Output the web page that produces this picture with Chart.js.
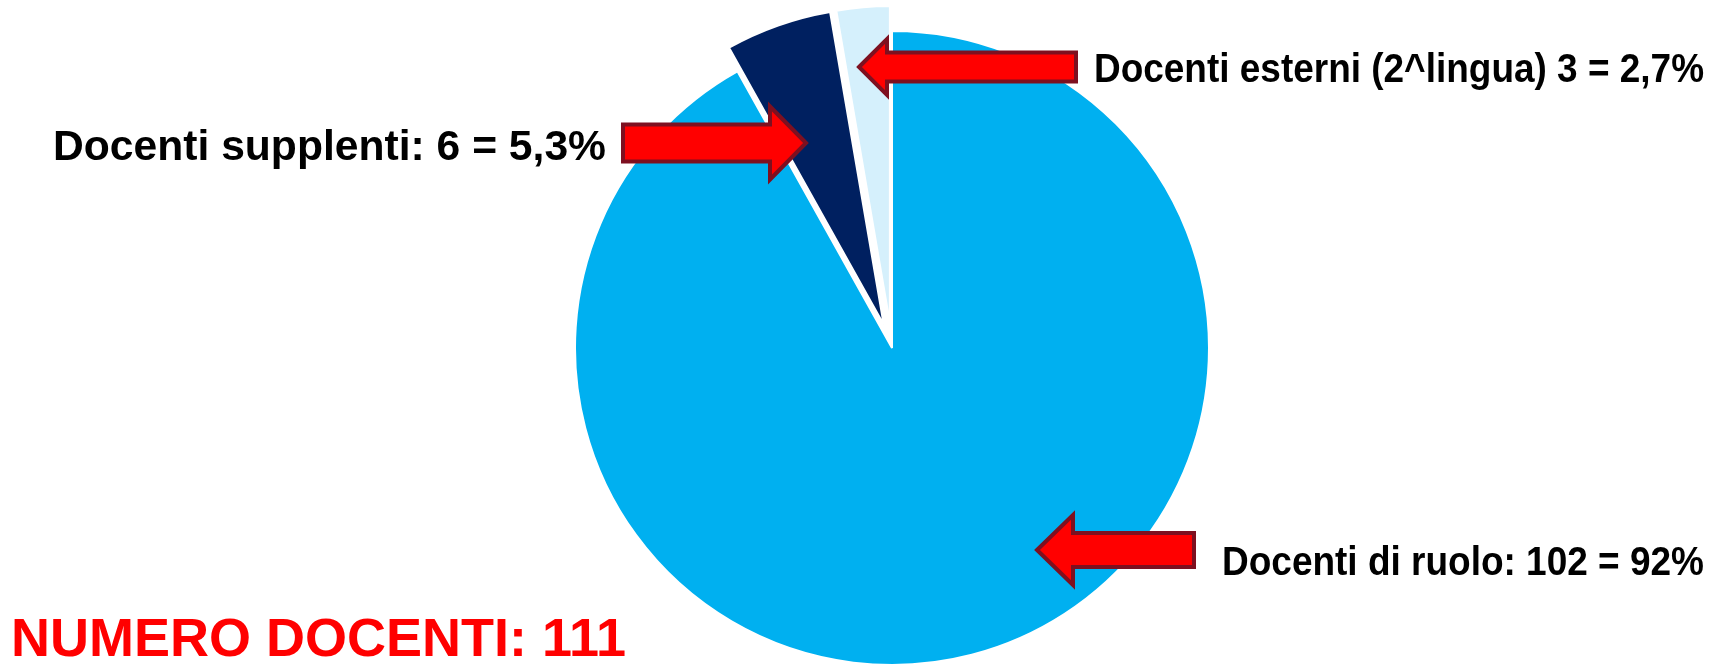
<!DOCTYPE html>
<html>
<head>
<meta charset="utf-8">
<script src="https://cdn.jsdelivr.net/npm/chart.js@4.4.1/dist/chart.umd.min.js"></script>
<style>
  html, body { margin: 0; padding: 0; background: #fff; }
  #wrap { width: 1715px; height: 666px; }
</style>
</head>
<body>
<div id="wrap"><canvas id="docenti" width="1715" height="666"></canvas></div>
<script>
// data
const categories = ['Docenti di ruolo', 'Docenti supplenti', 'Docenti esterni (2^lingua)'];
const counts = [102, 6, 3];
const sliceLabels = ['Docenti di ruolo: 102 = 92%', 'Docenti supplenti: 6 = 5,3%', 'Docenti esterni (2^lingua) 3 = 2,7%'];
const totalLabel = 'NUMERO DOCENTI: 111';

const sliceColors = ['#00B0F0', '#002060', '#D5F0FC'];
const explode = [0, 25, 25]; // px the slice is pulled out along its middle angle

// annotation placement, relative to pie centre: arrow tip, pointing dir, length, body h, head h, head len
const notes = [
  { tip: [145, 202], dir: -1, len: 157, body: 34, head: 70, headLen: 36,
    text: { x: 812, y: 227, size: 40, max: 482 } },
  { tip: [-86, -205], dir: 1, len: 183, body: 37, head: 73, headLen: 36,
    text: { x: -286, y: -188, size: 43, max: 553 } },
  { tip: [-33, -281], dir: -1, len: 217, body: 29, head: 56, headLen: 28,
    text: { x: 812, y: -266, size: 40, max: 610 } }
];

function drawArrow(ctx, x, y, n) {
  const d = n.dir, bh = n.body / 2, hh = n.head / 2;
  const back = x - d * n.headLen, tail = x - d * n.len;
  ctx.beginPath();
  ctx.moveTo(x, y);
  ctx.lineTo(back, y - hh);
  ctx.lineTo(back, y - bh);
  ctx.lineTo(tail, y - bh);
  ctx.lineTo(tail, y + bh);
  ctx.lineTo(back, y + bh);
  ctx.lineTo(back, y + hh);
  ctx.closePath();
  ctx.fillStyle = '#FF0000';
  ctx.fill();
  ctx.lineWidth = 4;
  ctx.lineJoin = 'miter';
  ctx.strokeStyle = '#7E1020';
  ctx.stroke();
}

// pull slices out without the radius growth of chart.js' own "offset"
const explodePlugin = {
  id: 'explode',
  afterDatasetUpdate(chart, args) {
    if (args.index !== 0) return;
    chart.getDatasetMeta(0).data.forEach((el, i) => {
      const d = explode[i] || 0;
      if (!d) return;
      const mid = (el.startAngle + el.endAngle) / 2;
      el.x += Math.cos(mid) * d;
      el.y += Math.sin(mid) * d;
    });
  }
};

const notesPlugin = {
  id: 'notes',
  afterDatasetsDraw(chart) {
    const ctx = chart.ctx;
    const arc = chart.getDatasetMeta(0).data[0];
    const cx = arc.x, cy = arc.y;
    ctx.save();
    notes.forEach((n, i) => {
      drawArrow(ctx, cx + n.tip[0], cy + n.tip[1], n);
      ctx.font = 'bold ' + n.text.size + 'px "Liberation Sans", Arial, sans-serif';
      ctx.fillStyle = '#000';
      ctx.textAlign = 'right';
      ctx.textBaseline = 'alphabetic';
      ctx.fillText(sliceLabels[i], cx + n.text.x, cy + n.text.y, n.text.max);
    });
    ctx.font = 'bold 54px "Liberation Sans", Arial, sans-serif';
    ctx.fillStyle = '#FF0000';
    ctx.textAlign = 'left';
    ctx.fillText(totalLabel, 11, 656);
    ctx.restore();
  }
};

new Chart(
  document.getElementById('docenti'),
  {
    type: 'pie',
    data: {
      labels: categories,
      datasets: [{
        data: counts,
        backgroundColor: sliceColors,
        borderColor: '#ffffff',
        borderWidth: 2,
        clip: false
      }]
    },
    options: {
      responsive: false,
      animation: false,
      radius: 317,
      layout: { padding: { left: 69, right: 0, top: 30, bottom: 0 } },
      plugins: {
        legend: { display: false },
        tooltip: { enabled: false }
      }
    },
    plugins: [explodePlugin, notesPlugin]
  }
);
</script>
</body>
</html>
